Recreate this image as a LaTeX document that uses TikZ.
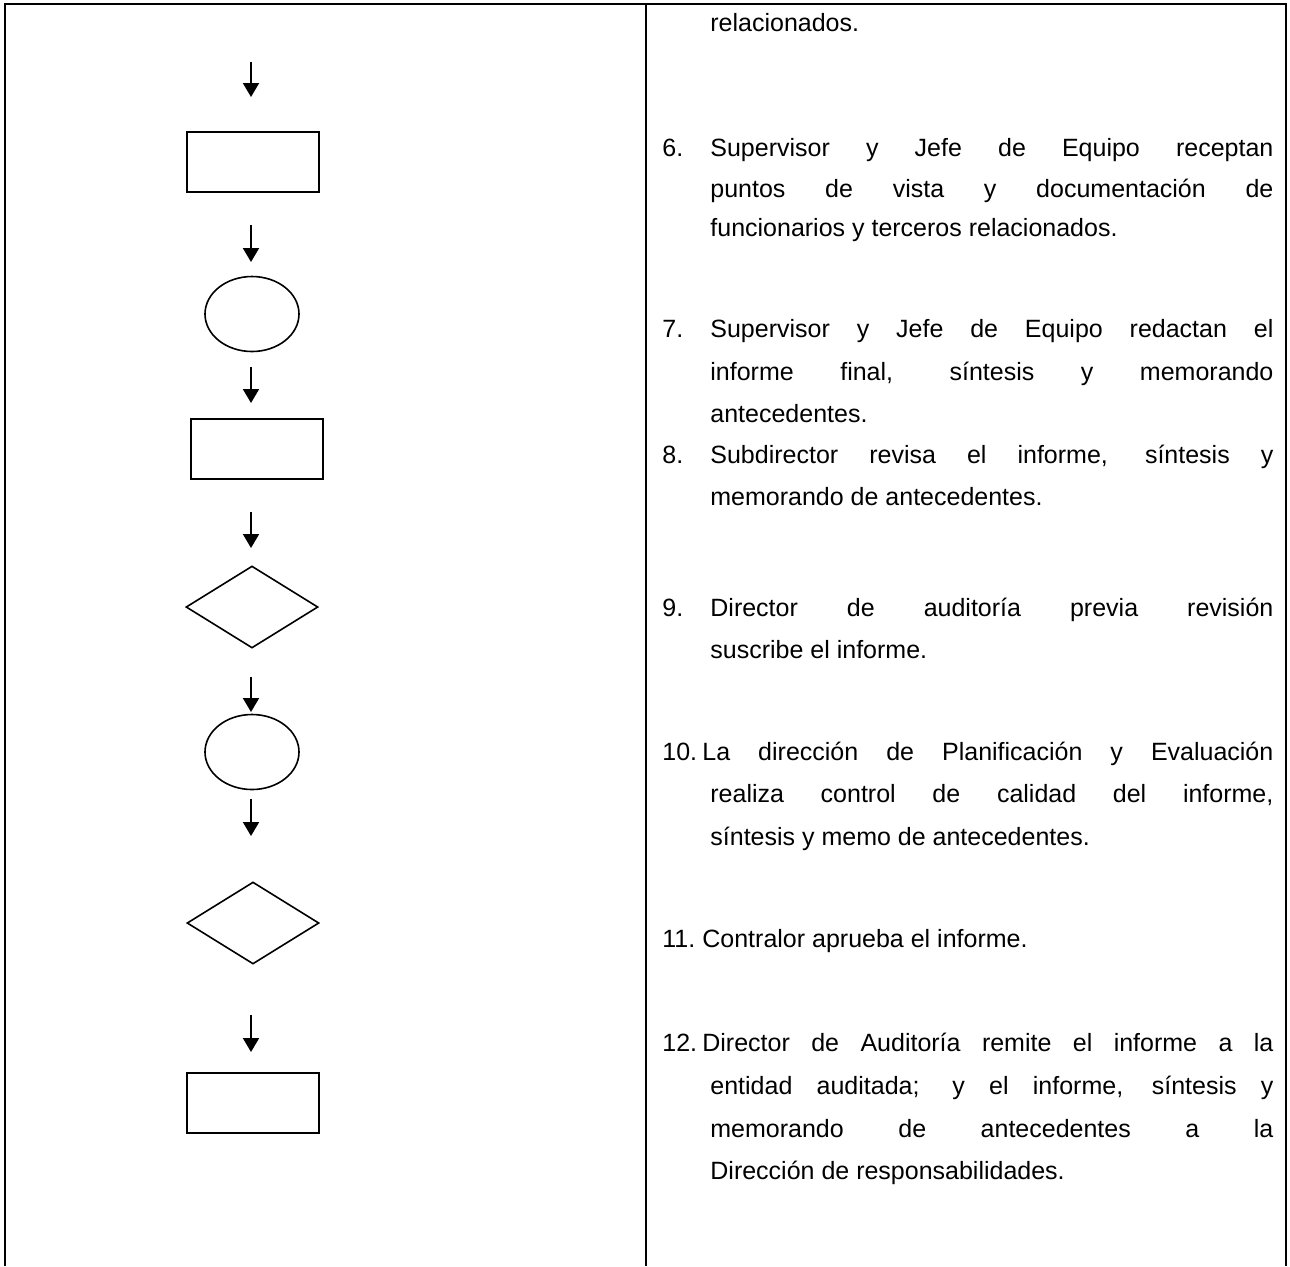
\documentclass[tikz,border=0pt]{standalone}
\usepackage{fontspec}
\setmainfont{Liberation Sans}
\usetikzlibrary{arrows.meta,shapes.geometric}
\hbadness=10000
\hfuzz=50pt
\begin{document}
\begin{tikzpicture}[x=0.5pt,y=-0.5pt,
  frame/.style={line width=1.3pt},
  procbox/.style={draw,rectangle,line width=1pt,minimum width=66pt,minimum height=30pt,inner sep=0pt},
  oval/.style={draw,ellipse,line width=0.8pt,minimum width=47pt,minimum height=37.5pt,inner sep=0pt},
  decision/.style={draw,diamond,line width=0.8pt,minimum width=66pt,minimum height=41pt,inner sep=0pt},
  flow/.style={line width=1pt,-{Triangle[length=7pt,width=8pt]}},
  txt/.style={anchor=base west,inner sep=0pt,font=\fontsize{12.5pt}{21pt}\selectfont}]
\useasboundingbox (0,0) rectangle (1290,1266);
% table frame
\draw[frame] (5,1266) -- (5,4) -- (1286,4) -- (1286,1266);
\draw[frame] (646,4) -- (646,1266);
% flow shapes
\node[procbox] (r1) at (253,162) {};
\node[oval] (e1) at (252,314) {};
\node[procbox] (r2) at (257,449) {};
\node[decision] (d1) at (252,607) {};
\node[oval] (e2) at (252,752) {};
\node[decision] (d2) at (253,923) {};
\node[procbox] (r3) at (253,1103) {};
% arrows
\coordinate (a1s) at (251,62);   \coordinate (a1e) at (251,97);
\coordinate (a2s) at (251,225);  \coordinate (a2e) at (251,262);
\coordinate (a3s) at (251,367);  \coordinate (a3e) at (251,403);
\coordinate (a4s) at (251,512);  \coordinate (a4e) at (251,548);
\coordinate (a5s) at (251,677);  \coordinate (a5e) at (251,712);
\coordinate (a6s) at (251,799);  \coordinate (a6e) at (251,836);
\coordinate (a7s) at (251,1015); \coordinate (a7e) at (251,1052);
\foreach \i in {1,...,7} {\draw[flow] (a\i s) -- (a\i e);}
% text column
\def\W{281.5pt}  % continuation width 710->1273
\def\F{305.5pt}  % first-line width 662->1273
\newcommand{\numb}[1]{\makebox[24pt][l]{#1}}
\newcommand{\numbb}[1]{\makebox[20pt][l]{#1}}
\node[txt] (t0) at (710,31) {relacionados.};
\node[txt] (t6a) at (662,156) {\makebox[\F][s]{\numb{6.}Supervisor y Jefe de Equipo receptan}};
\node[txt] (t6b) at (710,197) {\makebox[\W][s]{puntos de vista y documentación de}};
\node[txt] (t6c) at (710,236) {funcionarios y terceros relacionados.};
\node[txt] (t7a) at (662,337) {\makebox[\F][s]{\numb{7.}Supervisor y Jefe de Equipo redactan el}};
\node[txt] (t7b) at (710,380) {\makebox[\W][s]{informe final, síntesis y memorando}};
\node[txt] (t7c) at (710,422) {antecedentes.};
\node[txt] (t8a) at (662,463) {\makebox[\F][s]{\numb{8.}Subdirector revisa el informe, síntesis y}};
\node[txt] (t8b) at (710,505) {memorando de antecedentes.};
\node[txt] (t9a) at (662,616) {\makebox[\F][s]{\numb{9.}Director de auditoría previa revisión}};
\node[txt] (t9b) at (710,658) {suscribe el informe.};
\node[txt] (t10a) at (662,760) {\makebox[\F][s]{\numbb{10.}La dirección de Planificación y Evaluación}};
\node[txt] (t10b) at (710,802) {\makebox[\W][s]{realiza control de calidad del informe,}};
\node[txt] (t10c) at (710,845) {síntesis y memo de antecedentes.};
\node[txt] (t11a) at (662,947) {\numbb{11.}Contralor aprueba el informe.};
\node[txt] (t12a) at (662,1051) {\makebox[\F][s]{\numbb{12.}Director de Auditoría remite el informe a la}};
\node[txt] (t12b) at (710,1094) {\makebox[\W][s]{entidad auditada; y el informe, síntesis y}};
\node[txt] (t12c) at (710,1137) {\makebox[\W][s]{memorando de antecedentes a la}};
\node[txt] (t12d) at (710,1179) {Dirección de responsabilidades.};
\end{tikzpicture}
\end{document}
